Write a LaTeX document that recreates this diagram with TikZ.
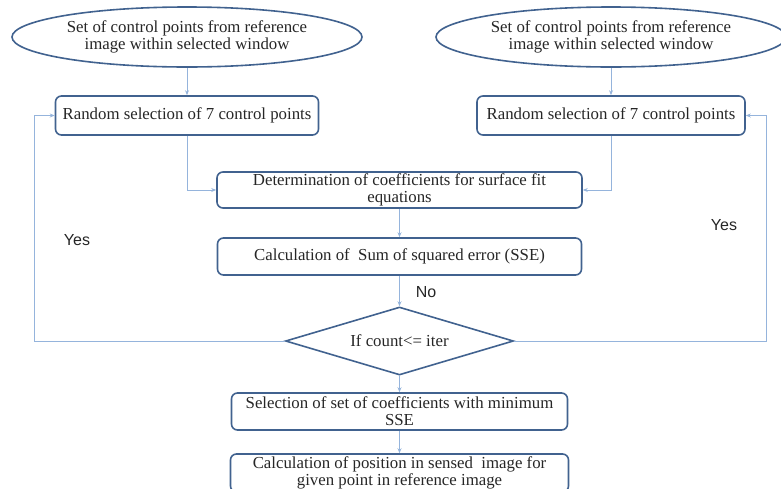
\documentclass[tikz,border=0pt]{standalone}
\usepackage{fontspec}
\setmainfont{Liberation Serif}
\newfontfamily\answerfont{Liberation Sans}
\usepackage{tikz}
\usepackage{xcolor}
\usetikzlibrary{
    arrows.meta,
    shapes.geometric,
    calc
}
\definecolor{boxblue}{HTML}{41628F}
\definecolor{flowblue}{HTML}{95B4DC}

\begin{document}
\begin{tikzpicture}[x=1pt, y=-1pt,
    every node/.style={font=\fontsize{16.8}{17}\selectfont, text=black!85},
    source/.style={ellipse, draw=boxblue, line width=1.6pt, inner sep=0pt,
        minimum width=350pt, minimum height=60pt, align=center},
    proc/.style={rectangle, rounded corners=6pt, draw=boxblue, line width=1.6pt,
        inner sep=0pt, minimum height=38pt, align=center},
    check/.style={diamond, draw=boxblue, line width=1.6pt, inner sep=0pt, aspect=3,
        minimum width=228pt, minimum height=68pt},
    answer/.style={font=\answerfont\fontsize{16}{17}\selectfont},
    link/.style={draw=flowblue, line width=1pt, -{Stealth[length=5pt, width=4pt]}}]
                                \useasboundingbox (0,0) rectangle (781,488);
                                \node[source] (refL) at (187,37) {Set of control points from reference\\image within selected window};
                                \node[source] (refR) at (611,37) {Set of control points from reference\\image within selected window};
                                \node[proc, minimum width=263pt, minimum height=39pt] (randL) at (187,115.5) {Random selection of 7 control points};
                                \node[proc, minimum width=268pt, minimum height=39pt] (randR) at (611,115.5) {Random selection of 7 control points};
                                \node[proc, minimum width=365pt, minimum height=36pt] (coef) at (399.5,190) {Determination of coefficients for surface fit\\equations};
                                \node[proc, minimum width=364pt, minimum height=37pt] (sse) at (399.5,256.5) {Calculation of\ \ Sum of squared error (SSE)};
                                \node[check] (cond) at (399.5,341) {If count<= iter};
                                \node[proc, minimum width=336pt, minimum height=37pt] (best) at (399.5,411.5) {Selection of set of coefficients with minimum\\SSE};
                                \node[proc, minimum width=338pt, minimum height=38pt] (locate) at (399.5,473) {Calculation of position in sensed\ \ image for\\given point in reference image};
                                \node[answer] (no) at (426,292) {No};
                                \node[answer] (yesL) at (77,240) {Yes};
                                \node[answer] (yesR) at (724,225) {Yes};
                                \coordinate (backL) at (34,341);
                                \coordinate (backR) at (766,341);
                                \draw[link] (refL) -- (randL);
                                \draw[link] (refR) -- (randR);
                                \draw[link] (randL) |- (coef);
                                \draw[link] (randR) |- (coef);
                                \draw[link] (coef) -- (sse);
                                \draw[link] (sse) -- (cond);
                                \draw[link] (cond) -- (best);
                                \draw[link] (best) -- (locate);
                                \draw[link] (cond) -- (backL) |- (randL);
                                \draw[link] (cond) -- (backR) |- (randR);
                            \end{tikzpicture}
\end{document}
